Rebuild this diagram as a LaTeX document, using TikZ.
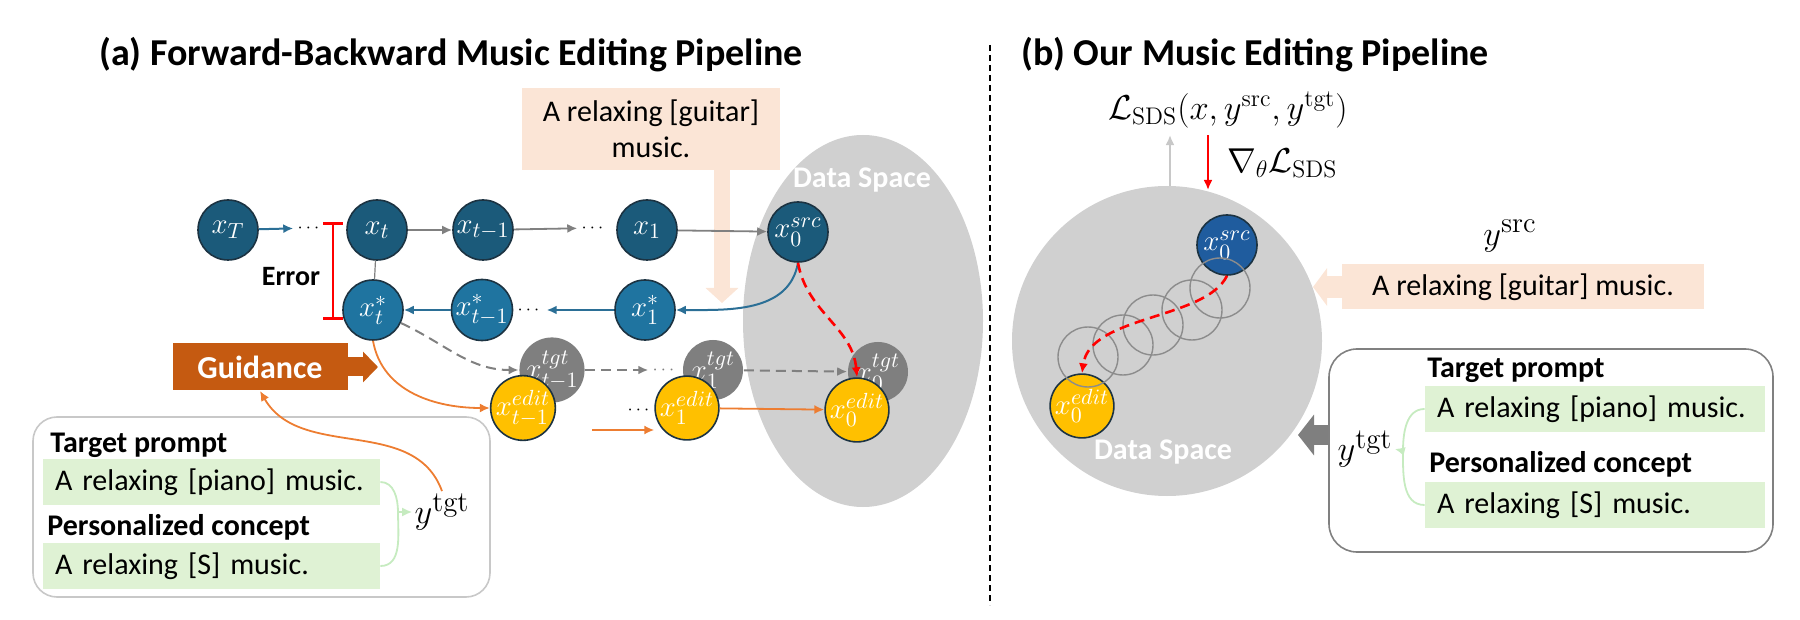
\documentclass[tikz,border=0pt]{standalone}
\usepackage{amsmath}
\usepackage[no-math]{fontspec}
\setmainfont{Carlito}
\usetikzlibrary{arrows.meta,calc,positioning}
\definecolor{deepblue}{HTML}{1B5A7A}
\definecolor{midblue}{HTML}{1F74A0}
\definecolor{srcblue}{HTML}{1F5C9E}
\definecolor{rimdark}{HTML}{1C3342}
\definecolor{tgtgray}{HTML}{7F7F7F}
\definecolor{edityellow}{HTML}{FFC000}
\definecolor{arrowblue}{HTML}{2B6F96}
\definecolor{arrowgray}{HTML}{808080}
\definecolor{edgeorange}{HTML}{ED7D31}
\definecolor{guidebrown}{HTML}{C55A11}
\definecolor{peach}{HTML}{FBE5D6}
\definecolor{promptgreen}{HTML}{DFF2D4}
\definecolor{bracegreen}{HTML}{C6EBC0}
\definecolor{spacegray}{HTML}{D0D0D0}
\definecolor{ringgray}{HTML}{8C8C8C}
\definecolor{boxgray}{HTML}{808080}
\definecolor{lightboxgray}{HTML}{C8C8C8}
\tikzset{
    latent/.style = {circle, draw=rimdark, line width=0.8pt, fill=deepblue,
        minimum size=30pt, inner sep=0pt, text=white,
        font=\fontsize{15}{15}\selectfont},
    latentstar/.style = {latent, fill=midblue},
    srcnode/.style = {latent, fill=srcblue},
    tgtnode/.style = {latent, draw=none, fill=tgtgray},
    editnode/.style = {latent, fill=edityellow},
    dotsnode/.style = {inner sep=2pt, font=\fontsize{9}{9}\selectfont},
    bluearrow/.style = {draw=arrowblue, line width=1pt},
    grayarrow/.style = {draw=arrowgray, line width=0.9pt},
    tgtarrow/.style = {draw=arrowgray, line width=1pt, dash pattern=on 5pt off 3pt},
    orarrow/.style = {draw=edgeorange, line width=0.9pt, ->},
    reddash/.style = {draw=red, line width=1.3pt, dash pattern=on 5pt off 3pt, ->},
    errbar/.style = {draw=red, line width=1.3pt, {Bar[width=10pt]}-{Bar[width=10pt]}},
    titletext/.style = {font=\fontsize{19}{22}\selectfont\bfseries},
    headtext/.style = {font=\fontsize{15}{18}\selectfont\bfseries, inner sep=0pt},
    spacelabel/.style = {text=white, font=\fontsize{15}{18}\selectfont\bfseries},
    srcbox/.style = {fill=peach, font=\fontsize{15}{18}\selectfont, inner sep=0pt},
    promptbox/.style = {fill=promptgreen, font=\fontsize{15}{18}\selectfont,
        text width=#1, inner xsep=6pt, inner ysep=0pt, minimum height=23pt, align=left},
    roundbox/.style = {draw=lightboxgray, line width=0.8pt, rounded corners=12pt},
    brace/.style = {draw=bracegreen, line width=0.9pt},
    ylabel/.style = {inner sep=1pt, font=\fontsize{19}{19}\selectfont},
    lossfont/.style = {font=\fontsize{18}{18}\selectfont},
    guide/.style = {fill=guidebrown, text=white, minimum width=87.5pt, minimum height=23.5pt,
        font=\fontsize{16}{19}\selectfont\bfseries}
}

\begin{document}
\begin{tikzpicture}[x=0.5pt, y=-0.5pt, >={Latex[length=5pt,width=4.5pt]}]
\useasboundingbox (0,0) rectangle (1800,620);

% data spaces
\fill[spacegray] (863,321) ellipse [x radius=60pt, y radius=93pt];
\node[spacelabel] (dsA) at (862,180) {Data Space};
\fill[spacegray] (1167,341) circle [radius=77.5pt];
\node[spacelabel] (dsB) at (1163,452) {Data Space};

% titles and divider
\node[titletext] (ttlA) at (451,55) {(a) Forward-Backward Music Editing Pipeline};
\node[titletext] (ttlB) at (1255,55) {(b) Our Music Editing Pipeline};
\coordinate (divtop) at (990,45);
\coordinate (divbot) at (990,605);
\draw[line width=0.6pt, dash pattern=on 3pt off 2pt] (divtop) -- (divbot);

% (a) source prompt
\node[srcbox, minimum width=129pt, minimum height=41pt, align=center] (gtrA) at (651,129) {A relaxing [guitar]\\music.};
\coordinate (gtrAtip) at (722,303);
\draw[peach, line width=8pt, -{Triangle[width=16pt,length=7.5pt]}] (gtrAtip |- gtrA.south) -- (gtrAtip);

% (a) forward row
\node[latent] (xT) at (228,230) {$x_T$};
\node[dotsnode] (d1) at (310,228) {$\cdots$};
\node[latent] (xt) at (377,230) {$x_t$};
\node[latent] (xtm) at (483,230) {$x_{t-1}$};
\node[dotsnode] (d2) at (594,228) {$\cdots$};
\node[latent] (x1) at (647,230) {$x_1$};
\node[latent] (xsrc) at (798,232) {$x_0^{src}$};
\draw[->, bluearrow] (xT) -- (d1);
\draw[->, grayarrow] (xt) -- (xtm);
\draw[->, grayarrow] (xtm) -- (d2);
\draw[->, grayarrow] (x1) -- (xsrc);

% (a) backward row
\node[latentstar] (xts) at (373,310) {$x_t^*$};
\node[latentstar] (xtms) at (482,310) {$x_{t-1}^*$};
\node[dotsnode] (d3) at (530,310) {$\cdots$};
\node[latentstar] (x1s) at (645,310) {$x_1^*$};
\draw[->, bluearrow] (xtms) -- (xts);
\draw[->, bluearrow] (x1s) -- (d3);
\draw[->, bluearrow] (xsrc.south) to[out=-100,in=0] (x1s.east);
\draw[arrowgray, line width=0.6pt] (xt) -- (xts);

% error
\coordinate (errtop) at (333,222);
\coordinate (errbot) at (333,320);
\draw[errbar] (errtop) -- (errbot);
\node[headtext, font=\fontsize{14}{16}\selectfont\bfseries] (err) at (291,277) {Error};

% (a) target and edited rows
\node[tgtnode] (tgtm) at (552,370) {$x_{t-1}^{tgt}$};
\node[editnode] (editm) at (523,408) {$x_{t-1}^{edit}$};
\node[dotsnode, text=arrowgray] (d4) at (665,370) {$\cdots$};
\node[tgtnode] (tgt1) at (713,370) {$x_1^{tgt}$};
\node[dotsnode] (d5) at (640,410) {$\cdots$};
\node[editnode] (edit1) at (687,408) {$x_1^{edit}$};
\node[tgtnode] (tgt0) at (878,372) {$x_0^{tgt}$};
\node[editnode] (edit0) at (857,410) {$x_0^{edit}$};
\draw[->, tgtarrow] (xts.-25) to[out=-25,in=180] (tgtm.west);
\draw[->, tgtarrow] (tgtm) -- (d4);
\draw[->, tgtarrow] (tgt1) -- (tgt0);
\draw[orarrow] (xts.south) to[out=-80,in=180] (editm.west);
\coordinate (orin) at (592,430);
\draw[orarrow] (orin) -- (orin -| edit1.west);
\draw[orarrow] (edit1) -- (edit0);
\draw[reddash] (xsrc.south) to[out=-80,in=95] (edit0.north);

% guidance
\node[guide] (guid) at (260,367) {Guidance};
\coordinate (guidtip) at (378,367);
\draw[guidebrown, line width=9.5pt, -{Triangle[width=15pt,length=7.5pt]}] (guid.east) -- (guidtip);

% (a) prompts
\node[roundbox, minimum width=228.5pt, minimum height=90pt] (boxA) at (261.5,507) {};
\node[headtext, anchor=west] (tpA) at (50,445) {Target prompt};
\node[promptbox=156.5pt] (g1) at (211.5,482) {A relaxing [piano] music.};
\node[headtext, anchor=west] (pcA) at (47,527) {Personalized concept};
\node[promptbox=156.5pt] (g2) at (211.5,566) {A relaxing [S] music.};
\coordinate (brA) at (398,512);
\draw[brace] (g1.east) to[out=0,in=90] (brA);
\draw[brace] (g2.east) to[out=0,in=-90] (brA);
\node[ylabel] (ytA) at (442,512) {$y^{\mathrm{tgt}}$};
\draw[brace, ->] (brA) -- (ytA.west);
\draw[orarrow] (ytA.north) to[out=110,in=-60] (guid.south);

% (b) optimisation in data space
\node[srcnode] (xsrcB) at (1227,245) {$x_0^{src}$};
\node[editnode] (xeditB) at (1082,406) {$x_0^{edit}$};
\foreach \cx/\cy in {1088/357, 1123/345, 1153/325, 1192/310, 1220/288}
    \draw[ringgray, line width=0.7pt] (\cx,\cy) circle [radius=15pt];
\draw[reddash] (xsrcB.south) .. controls (1205,320) and (1090,315) .. (xeditB.north);

% (b) loss
\node[lossfont] (loss) at (1228,110) {$\mathcal{L}_{\mathrm{SDS}}(x, y^{\mathrm{src}}, y^{\mathrm{tgt}})$};
\node[lossfont, anchor=west] (grad) at (1220,163) {$\nabla_{\theta}\mathcal{L}_{\mathrm{SDS}}$};
\coordinate (upfoot) at (1170,186);
\coordinate (gradfoot) at (1208,190);
\draw[->, lightboxgray, line width=1pt] (upfoot) -- (upfoot |- loss.south);
\draw[->, red, line width=1.3pt] (gradfoot |- loss.south) -- (gradfoot);

% (b) source prompt
\node[srcbox, minimum width=181pt, minimum height=22.5pt] (gtrB) at (1523,287) {A relaxing [guitar] music.};
\coordinate (gtrBtip) at (1313,287);
\draw[peach, line width=11pt, -{Triangle[width=18.5pt,length=7pt]}] (gtrB.west) -- (gtrBtip);
\node[ylabel] (ysB) at (1510,236) {$y^{\mathrm{src}}$};

% (b) target prompts
\node[roundbox, draw=boxgray, rounded corners=14pt, minimum width=222pt, minimum height=101.5pt] (boxB) at (1551,450.5) {};
\node[headtext, anchor=west] (tpB) at (1427,370) {Target prompt};
\node[promptbox=158pt] (g3) at (1595,409) {A relaxing [piano] music.};
\node[headtext, anchor=west] (pcB) at (1429,464) {Personalized concept};
\node[promptbox=158pt] (g4) at (1595,505) {A relaxing [S] music.};
\coordinate (brB) at (1403,451);
\draw[brace] (g3.west) to[out=180,in=90] (brB);
\draw[brace] (g4.west) to[out=180,in=-90] (brB);
\node[ylabel] (ytB) at (1365,449) {$y^{\mathrm{tgt}}$};
\draw[brace, ->] (brB) -- (ytB.east);
\coordinate (grtip) at (1298,435);
\draw[tgtgray, line width=10pt, -{Triangle[width=20pt,length=8pt]}] (boxB.west |- grtip) -- (grtip);
\end{tikzpicture}
\end{document}
